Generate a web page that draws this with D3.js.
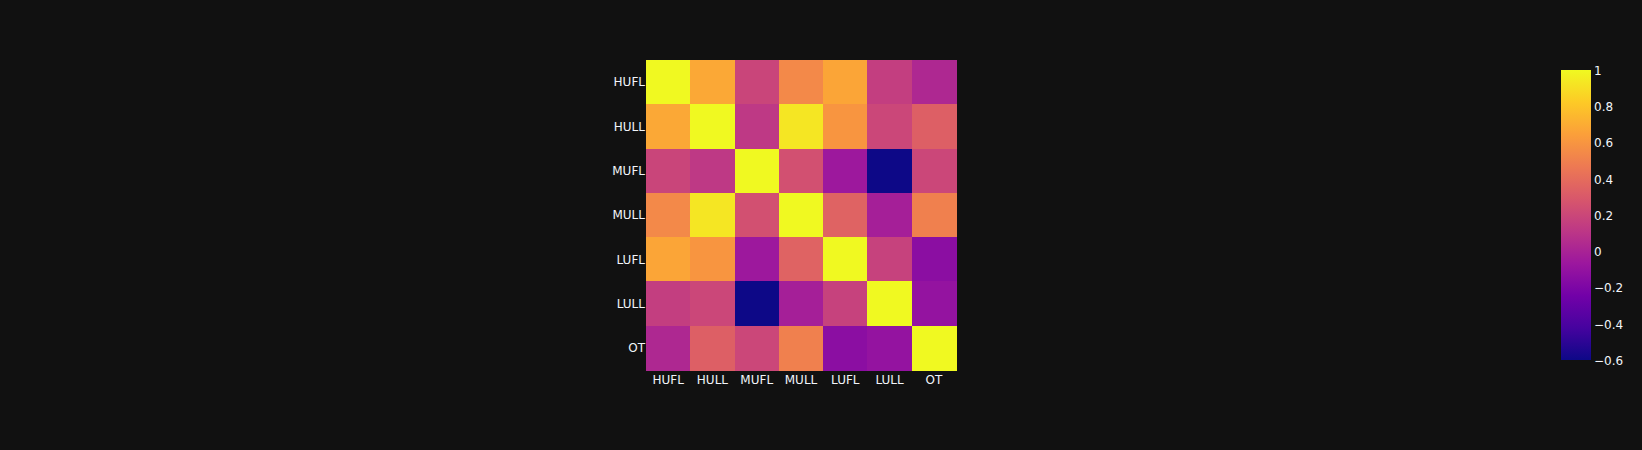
<!DOCTYPE html>
<html>
<head>
<meta charset="utf-8">
<script src="https://cdn.jsdelivr.net/npm/d3@7"></script>
<style>
html,body{margin:0;padding:0;background:#111111;}
svg{display:block;}
text{font-family:"DejaVu Sans",verdana,arial,sans-serif;font-size:12px;fill:#f2f5fa;}
</style>
</head>
<body>
<svg id="chart" width="1642" height="450"></svg>
<script>
const categories = ["HUFL","HULL","MUFL","MULL","LUFL","LULL","OT"];
const corrHUFL = [1.00, 0.68, 0.19, 0.54, 0.67, 0.15, 0.03];
const corrHULL = [0.68, 1.00, 0.12, 0.93, 0.60, 0.20, 0.33];
const corrMUFL = [0.19, 0.12, 1.00, 0.25, -0.06, -0.60, 0.20];
const corrMULL = [0.54, 0.93, 0.25, 1.00, 0.35, -0.02, 0.50];
const corrLUFL = [0.67, 0.60, -0.06, 0.35, 1.00, 0.17, -0.14];
const corrLULL = [0.15, 0.20, -0.60, -0.02, 0.17, 1.00, -0.10];
const corrOT   = [0.03, 0.33, 0.20, 0.50, -0.14, -0.10, 1.00];
const matrix = [corrHUFL, corrHULL, corrMUFL, corrMULL, corrLUFL, corrLULL, corrOT];
const colorbarTicks = [1, 0.8, 0.6, 0.4, 0.2, 0, -0.2, -0.4, -0.6];
const zMin = -0.60, zMax = 1.00;

const plasma = ['#0d0887','#46039f','#7201a8','#9c179e','#bd3786','#d8576b','#ed7953','#fb9f3a','#fdca26','#f0f921'];

const svg = d3.select("#chart");
const plot = {left:646, top:60, width:310, height:310};

const x = d3.scaleBand().domain(categories).range([plot.left, plot.left+plot.width]).padding(0);
const y = d3.scaleBand().domain(categories).range([plot.top, plot.top+plot.height]).padding(0);

const stopDomain = plasma.map((_,i)=> zMin + (zMax-zMin)*i/(plasma.length-1));
const color = d3.scaleLinear().domain(stopDomain).range(plasma).interpolate(d3.interpolateRgb).clamp(true);

const cells = [];
matrix.forEach((row,i)=>row.forEach((v,j)=>cells.push({r:categories[i], c:categories[j], v})));

svg.append("g").selectAll("rect").data(cells).join("rect")
  .attr("x", d=>x(d.c)).attr("y", d=>y(d.r))
  .attr("width", x.bandwidth()+0.5).attr("height", y.bandwidth()+0.5)
  .attr("fill", d=>color(d.v))
  .attr("shape-rendering","crispEdges");

// axes
const xAxis = d3.axisBottom(x).tickSize(0);
const gx = svg.append("g").attr("transform",`translate(0,${plot.top+plot.height})`).call(xAxis);
gx.select(".domain").remove();
gx.selectAll("text").attr("y",14).attr("dy",null).style("font-size","12px").attr("fill","#f2f5fa");

const yAxis = d3.axisLeft(y).tickSize(0).tickPadding(1);
const gy = svg.append("g").attr("transform",`translate(${plot.left},0)`).call(yAxis);
gy.select(".domain").remove();
gy.selectAll("text").attr("dy","0.36em").style("font-size","12px").attr("fill","#f2f5fa");

// colorbar
const cb = {left:1561, top:70, width:30, height:290};
const defs = svg.append("defs");
const grad = defs.append("linearGradient").attr("id","cbgrad")
  .attr("x1","0").attr("y1","1").attr("x2","0").attr("y2","0");
grad.selectAll("stop").data(plasma).join("stop")
  .attr("offset",(d,i)=>i/(plasma.length-1)).attr("stop-color",d=>d);
svg.append("rect").attr("x",cb.left).attr("y",cb.top).attr("width",cb.width).attr("height",cb.height)
  .attr("fill","url(#cbgrad)");
const cbScale = d3.scaleLinear().domain([zMin,zMax]).range([cb.top+cb.height, cb.top]);
const cbAxis = d3.axisRight(cbScale).tickValues(colorbarTicks).tickSize(0).tickPadding(3)
  .tickFormat(d=> d<0 ? "\u2212"+Math.abs(d) : String(d));
const gcb = svg.append("g").attr("transform",`translate(${cb.left+cb.width},0)`).call(cbAxis);
gcb.select(".domain").remove();
gcb.selectAll("text").attr("dy","0.36em").style("font-size","12px").attr("fill","#f2f5fa");
</script>
</body>
</html>
